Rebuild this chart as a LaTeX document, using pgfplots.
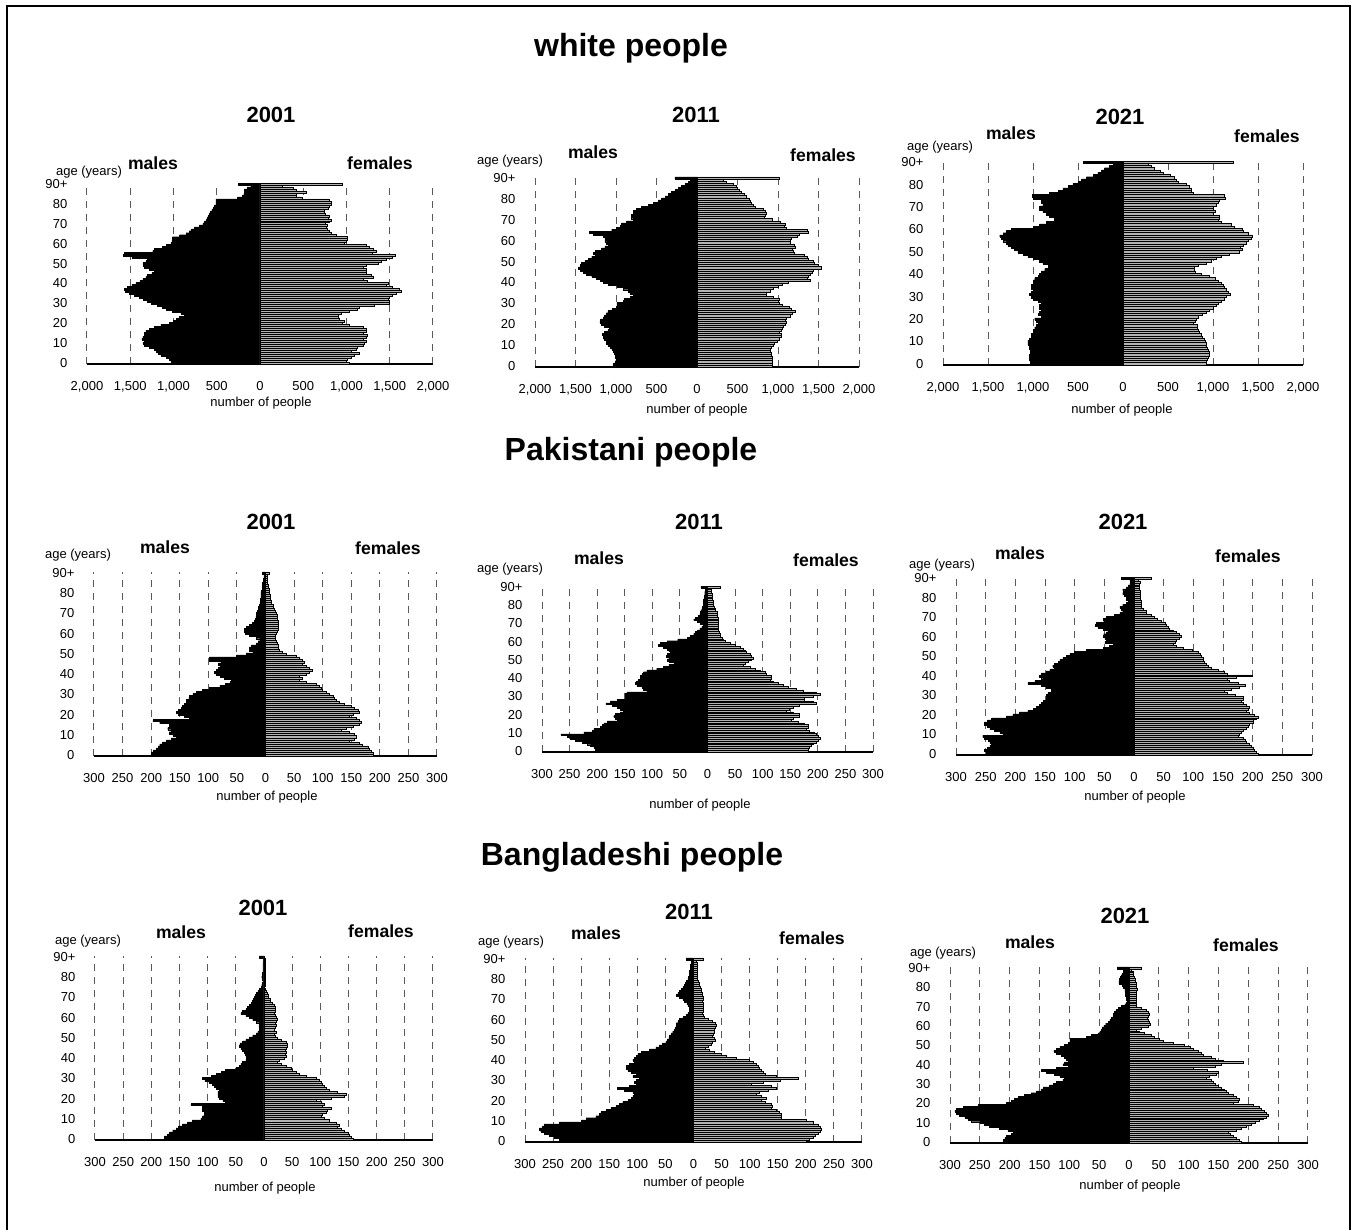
\documentclass[border=0pt]{standalone}
\usepackage{fontspec}
\setmainfont{Liberation Sans}
\usepackage{pgfplots}
\pgfplotsset{compat=1.18}
\usepackage{pgfplotstable}

\newcommand\sm{\fontsize{6.5}{7.5}\selectfont}
\newcommand\sx{\bfseries\fontsize{8.8}{10}\selectfont}
\newcommand\yr{\bfseries\fontsize{11}{13}\selectfont}
\newcommand\hd{\bfseries\fontsize{16}{19}\selectfont}

% age, males (negative), females -- white
\pgfplotstableread[row sep=\\]{age m f\\
0 -1010 1030\\ 1 -1030 1000\\ 2 -1050 1015\\ 3 -1085 1055\\ 4 -1145 1090\\ 5 -1180 1150\\ 6 -1200 1055\\ 7 -1220 1110\\ 8 -1280 1130\\ 9 -1340 1190\\
10 -1355 1210\\ 11 -1340 1230\\ 12 -1365 1190\\ 13 -1355 1230\\ 14 -1340 1245\\ 15 -1340 1190\\ 16 -1320 1230\\ 17 -1280 1230\\ 18 -1220 1190\\ 19 -1145 1035\\
20 -1050 955\\ 21 -1000 975\\ 22 -970 920\\ 23 -930 900\\ 24 -875 900\\ 25 -915 940\\ 26 -1010 1035\\ 27 -1085 1130\\ 28 -1125 1150\\ 29 -1190 1325\\
30 -1260 1500\\ 31 -1300 1500\\ 32 -1350 1480\\ 33 -1395 1500\\ 34 -1450 1535\\ 35 -1510 1575\\ 36 -1560 1630\\ 37 -1570 1615\\ 38 -1530 1535\\ 39 -1480 1460\\
40 -1435 1480\\ 41 -1390 1245\\ 42 -1355 1190\\ 43 -1320 1305\\ 44 -1300 1285\\ 45 -1250 1230\\ 46 -1220 1230\\ 47 -1280 1230\\ 48 -1340 1190\\ 49 -1350 1230\\
50 -1355 1365\\ 51 -1320 1400\\ 52 -1300 1460\\ 53 -1480 1535\\ 54 -1580 1560\\ 55 -1570 1300\\ 56 -1240 1345\\ 57 -1220 1305\\ 58 -1125 1260\\ 59 -1080 1230\\
60 -1030 975\\ 61 -1020 995\\ 62 -1015 1015\\ 63 -1010 1015\\ 64 -930 880\\ 65 -855 820\\ 66 -820 800\\ 67 -790 780\\ 68 -760 765\\ 69 -700 780\\
70 -660 760\\ 71 -640 800\\ 72 -620 820\\ 73 -610 790\\ 74 -600 800\\ 75 -585 760\\ 76 -570 740\\ 77 -555 745\\ 78 -540 785\\ 79 -525 800\\
80 -510 820\\ 81 -510 820\\ 82 -510 800\\ 83 -260 490\\ 84 -200 420\\ 85 -185 420\\ 86 -180 530\\ 87 -180 420\\ 88 -150 380\\ 89 -105 262\\
90 -250 957\\
}\Wa
\pgfplotstableread[row sep=\\]{age m f\\
0 -1040 930\\ 1 -1030 935\\ 2 -1010 935\\ 3 -1000 930\\ 4 -1005 925\\ 5 -1010 920\\ 6 -1020 915\\ 7 -1030 905\\ 8 -1050 900\\ 9 -1070 920\\
10 -1100 940\\ 11 -1115 960\\ 12 -1120 990\\ 13 -1150 1020\\ 14 -1160 1040\\ 15 -1165 1040\\ 16 -1140 1020\\ 17 -1100 1040\\ 18 -1080 1050\\ 19 -1140 1070\\
20 -1180 1090\\ 21 -1200 1100\\ 22 -1190 1090\\ 23 -1160 1100\\ 24 -1140 1150\\ 25 -1120 1180\\ 26 -1100 1210\\ 27 -1050 1170\\ 28 -1000 1140\\ 29 -990 1050\\
30 -990 1020\\ 31 -910 1000\\ 32 -900 1010\\ 33 -820 940\\ 34 -790 850\\ 35 -830 860\\ 36 -850 900\\ 37 -910 940\\ 38 -990 1000\\ 39 -1095 1050\\
40 -1156 1130\\ 41 -1197 1400\\ 42 -1239 1360\\ 43 -1300 1380\\ 44 -1362 1400\\ 45 -1403 1420\\ 46 -1444 1430\\ 47 -1465 1530\\ 48 -1444 1500\\ 49 -1424 1450\\
50 -1383 1440\\ 51 -1341 1380\\ 52 -1300 1360\\ 53 -1259 1330\\ 54 -1280 1200\\ 55 -1259 1190\\ 56 -1177 1180\\ 57 -1136 1210\\ 58 -1095 1200\\ 59 -1115 1150\\
60 -1136 1150\\ 61 -1136 1160\\ 62 -1156 1240\\ 63 -1280 1260\\ 64 -1330 1380\\ 65 -1053 1360\\ 66 -992 1100\\ 67 -950 1080\\ 68 -930 1090\\ 69 -868 1030\\
70 -786 930\\ 71 -807 830\\ 72 -807 840\\ 73 -786 850\\ 74 -786 840\\ 75 -745 820\\ 76 -683 720\\ 77 -600 690\\ 78 -539 670\\ 79 -477 660\\
80 -436 640\\ 81 -395 610\\ 82 -354 580\\ 83 -313 550\\ 84 -272 520\\ 85 -230 500\\ 86 -190 480\\ 87 -148 450\\ 88 -107 360\\ 89 -86 330\\
90 -272 1016\\
}\Wb
\pgfplotstableread[row sep=\\]{age m f\\
0 -1018 920\\ 1 -1030 930\\ 2 -1037 940\\ 3 -1037 950\\ 4 -1037 955\\ 5 -1030 960\\ 6 -1030 950\\ 7 -1037 940\\ 8 -1037 930\\ 9 -1056 920\\
10 -1056 910\\ 11 -1037 900\\ 12 -1018 880\\ 13 -1018 870\\ 14 -1000 850\\ 15 -1000 840\\ 16 -981 830\\ 17 -963 820\\ 18 -944 780\\ 19 -963 800\\
20 -981 810\\ 21 -907 840\\ 22 -944 880\\ 23 -926 920\\ 24 -907 960\\ 25 -926 1000\\ 26 -926 1040\\ 27 -907 1060\\ 28 -944 1090\\ 29 -1000 1120\\
30 -1018 1150\\ 31 -1037 1190\\ 32 -1018 1170\\ 33 -1000 1150\\ 34 -1018 1130\\ 35 -1018 1110\\ 36 -1000 1090\\ 37 -1000 1060\\ 38 -981 1020\\ 39 -944 960\\
40 -926 870\\ 41 -907 800\\ 42 -870 790\\ 43 -833 790\\ 44 -833 835\\ 45 -889 925\\ 46 -926 980\\ 47 -1000 1040\\ 48 -1056 1090\\ 49 -1111 1185\\
50 -1167 1296\\ 51 -1204 1320\\ 52 -1240 1300\\ 53 -1278 1333\\ 54 -1296 1370\\ 55 -1333 1390\\ 56 -1352 1425\\ 57 -1370 1440\\ 58 -1333 1390\\ 59 -1296 1333\\
60 -1240 1320\\ 61 -1000 1240\\ 62 -926 1200\\ 63 -852 1090\\ 64 -759 1055\\ 65 -759 1075\\ 66 -815 1075\\ 67 -852 1000\\ 68 -889 1020\\ 69 -926 1000\\
70 -926 1000\\ 71 -889 1040\\ 72 -907 1055\\ 73 -907 1075\\ 74 -1000 1140\\ 75 -1011 1130\\ 76 -815 780\\ 77 -722 760\\ 78 -667 760\\ 79 -611 740\\
80 -556 700\\ 81 -500 610\\ 82 -463 590\\ 83 -407 575\\ 84 -333 520\\ 85 -278 445\\ 86 -240 410\\ 87 -204 350\\ 88 -148 315\\ 89 -110 280\\
90 -437 1230\\
}\Wc
% Pakistani
\pgfplotstableread[row sep=\\]{age m f\\
0 -197 188\\ 1 -200 188\\ 2 -196 185\\ 3 -191 182\\ 4 -188 179\\ 5 -185 170\\ 6 -180 164\\ 7 -174 147\\ 8 -165 156\\ 9 -156 159\\
10 -162 156\\ 11 -168 147\\ 12 -165 132\\ 13 -171 141\\ 14 -168 153\\ 15 -168 164\\ 16 -185 167\\ 17 -197 164\\ 18 -133 159\\ 19 -142 147\\
20 -153 153\\ 21 -156 164\\ 22 -153 162\\ 23 -147 156\\ 24 -145 150\\ 25 -142 138\\ 26 -139 129\\ 27 -139 124\\ 28 -134 121\\ 29 -133 118\\
30 -127 112\\ 31 -121 106\\ 32 -110 100\\ 33 -98 97\\ 34 -80 94\\ 35 -70 89\\ 36 -62 71\\ 37 -60 59\\ 38 -72 65\\ 39 -80 59\\
40 -87 71\\ 41 -89 77\\ 42 -86 82\\ 43 -83 77\\ 44 -80 71\\ 45 -83 65\\ 46 -78 68\\ 47 -98 65\\ 48 -98 59\\ 49 -51 54\\
50 -34 36\\ 51 -22 30\\ 52 -28 24\\ 53 -28 22\\ 54 -25 22\\ 55 -16 20\\ 56 -13 19\\ 57 -10 18\\ 58 -16 17\\ 59 -28 18\\
60 -35 19\\ 61 -37 21\\ 62 -37 22\\ 63 -34 22\\ 64 -28 22\\ 65 -23 22\\ 66 -19 22\\ 67 -18 21\\ 68 -17 20\\ 69 -16 20\\
70 -16 19\\ 71 -14 17\\ 72 -13 16\\ 73 -12 14\\ 74 -11 13\\ 75 -10 11\\ 76 -9 10\\ 77 -9 9\\ 78 -8 8\\ 79 -8 8\\
80 -8 7\\ 81 -7 6\\ 82 -6 6\\ 83 -6 5\\ 84 -5 5\\ 85 -5 4\\ 86 -4 4\\ 87 -4 4\\ 88 -3 3\\ 89 -3 3\\
90 -5 7\\
}\Pa
\pgfplotstableread[row sep=\\]{age m f\\
0 -203 182\\ 1 -203 182\\ 2 -206 185\\ 3 -212 188\\ 4 -218 192\\ 5 -227 198\\ 6 -239 200\\ 7 -248 204\\ 8 -254 200\\ 9 -266 198\\
10 -224 194\\ 11 -209 185\\ 12 -206 179\\ 13 -194 182\\ 14 -191 182\\ 15 -188 176\\ 16 -182 164\\ 17 -164 152\\ 18 -167 155\\ 19 -170 167\\
20 -167 167\\ 21 -158 155\\ 22 -152 143\\ 23 -158 149\\ 24 -164 155\\ 25 -173 167\\ 26 -184 198\\ 27 -176 192\\ 28 -164 176\\ 29 -149 176\\
30 -149 192\\ 31 -149 204\\ 32 -146 198\\ 33 -110 173\\ 34 -116 161\\ 35 -119 146\\ 36 -128 137\\ 37 -131 128\\ 38 -129 119\\ 39 -125 113\\
40 -122 116\\ 41 -122 116\\ 42 -119 107\\ 43 -116 104\\ 44 -110 95\\ 45 -92 86\\ 46 -80 77\\ 47 -70 65\\ 48 -61 68\\ 49 -70 74\\
50 -73 80\\ 51 -70 83\\ 52 -75 80\\ 53 -73 77\\ 54 -67 71\\ 55 -70 68\\ 56 -73 65\\ 57 -80 59\\ 58 -89 50\\ 59 -86 41\\
60 -73 32\\ 61 -54 29\\ 62 -37 26\\ 63 -31 24\\ 64 -25 23\\ 65 -22 21\\ 66 -18 20\\ 67 -14 20\\ 68 -10 20\\ 69 -8 20\\
70 -13 20\\ 71 -19 20\\ 72 -25 20\\ 73 -22 19\\ 74 -16 18\\ 75 -14 17\\ 76 -13 17\\ 77 -12 15\\ 78 -10 14\\ 79 -9 12\\
80 -8 11\\ 81 -8 10\\ 82 -7 10\\ 83 -7 9\\ 84 -6 9\\ 85 -6 8\\ 86 -5 8\\ 87 -5 7\\ 88 -4 7\\ 89 -4 5\\
90 -12 23\\
}\Pb
\pgfplotstableread[row sep=\\]{age m f\\
0 -249 209\\ 1 -249 206\\ 2 -252 203\\ 3 -247 201\\ 4 -243 198\\ 5 -240 195\\ 6 -243 189\\ 7 -246 187\\ 8 -252 184\\ 9 -255 175\\
10 -221 178\\ 11 -226 181\\ 12 -235 184\\ 13 -243 189\\ 14 -247 192\\ 15 -252 195\\ 16 -252 201\\ 17 -247 201\\ 18 -240 206\\ 19 -215 209\\
20 -204 203\\ 21 -193 195\\ 22 -179 189\\ 23 -170 192\\ 24 -165 195\\ 25 -159 189\\ 26 -156 184\\ 27 -153 181\\ 28 -148 184\\ 29 -148 184\\
30 -148 170\\ 31 -145 158\\ 32 -139 153\\ 33 -139 164\\ 34 -148 178\\ 35 -156 187\\ 36 -179 175\\ 37 -167 161\\ 38 -153 158\\ 39 -156 172\\
40 -159 199\\ 41 -156 158\\ 42 -148 153\\ 43 -142 142\\ 44 -134 130\\ 45 -137 125\\ 46 -134 122\\ 47 -128 119\\ 48 -125 117\\ 49 -120 116\\
50 -114 113\\ 51 -108 111\\ 52 -100 108\\ 53 -80 99\\ 54 -52 83\\ 55 -41 71\\ 56 -35 66\\ 57 -49 69\\ 58 -47 71\\ 59 -49 77\\
60 -52 80\\ 61 -51 77\\ 62 -47 71\\ 63 -44 66\\ 64 -52 60\\ 65 -61 57\\ 66 -65 54\\ 67 -63 52\\ 68 -51 46\\ 69 -52 40\\
70 -47 35\\ 71 -33 29\\ 72 -24 21\\ 73 -19 20\\ 74 -21 15\\ 75 -24 13\\ 76 -19 12\\ 77 -13 12\\ 78 -10 12\\ 79 -13 11\\
80 -13 11\\ 81 -16 10\\ 82 -19 10\\ 83 -16 10\\ 84 -19 9\\ 85 -13 9\\ 86 -10 9\\ 87 -7 9\\ 88 -6 10\\ 89 -7 8\\
90 -21 29\\
}\Pc
% Bangladeshi
\pgfplotstableread[row sep=\\]{age m f\\
0 -174 158\\ 1 -177 155\\ 2 -171 152\\ 3 -168 149\\ 4 -162 143\\ 5 -156 137\\ 6 -152 131\\ 7 -145 134\\ 8 -136 128\\ 9 -127 116\\
10 -112 107\\ 11 -109 101\\ 12 -106 104\\ 13 -106 110\\ 14 -109 113\\ 15 -109 119\\ 16 -109 104\\ 17 -130 107\\ 18 -68 101\\ 19 -73 92\\
20 -79 119\\ 21 -82 143\\ 22 -82 146\\ 23 -82 131\\ 24 -80 116\\ 25 -85 110\\ 26 -88 107\\ 27 -92 104\\ 28 -98 101\\ 29 -105 98\\
30 -109 92\\ 31 -94 75\\ 32 -85 63\\ 33 -76 57\\ 34 -68 51\\ 35 -50 48\\ 36 -44 39\\ 37 -41 30\\ 38 -38 24\\ 39 -32 27\\
40 -31 36\\ 41 -32 39\\ 42 -33 38\\ 43 -35 39\\ 44 -38 38\\ 45 -41 39\\ 46 -44 42\\ 47 -43 42\\ 48 -38 39\\ 49 -32 30\\
50 -26 24\\ 51 -20 20\\ 52 -14 18\\ 53 -11 21\\ 54 -8 18\\ 55 -8 20\\ 56 -9 21\\ 57 -8 20\\ 58 -14 21\\ 59 -20 23\\
60 -26 21\\ 61 -32 20\\ 62 -41 18\\ 63 -38 20\\ 64 -32 20\\ 65 -29 20\\ 66 -26 18\\ 67 -23 14\\ 68 -21 12\\ 69 -19 11\\
70 -17 8\\ 71 -15 7\\ 72 -14 5\\ 73 -11 4\\ 74 -8 2\\ 75 -5 1\\ 76 -4 2\\ 77 -3 2\\ 78 -2 2\\ 79 -3 2\\
80 -4 2\\ 81 -3 2\\ 82 -3 2\\ 83 -2 2\\ 84 -2 2\\ 85 -2 2\\ 86 -2 2\\ 87 -2 2\\ 88 -1 2\\ 89 -1 2\\
90 -8 1\\
}\Ba
\pgfplotstableread[row sep=\\]{age m f\\
0 -227 201\\ 1 -239 207\\ 2 -248 213\\ 3 -257 217\\ 4 -266 222\\ 5 -272 226\\ 6 -275 228\\ 7 -269 225\\ 8 -266 222\\ 9 -239 213\\
10 -200 201\\ 11 -191 156\\ 12 -174 156\\ 13 -168 156\\ 14 -165 153\\ 15 -156 147\\ 16 -147 138\\ 17 -138 141\\ 18 -132 138\\ 19 -126 127\\
20 -117 121\\ 21 -111 130\\ 22 -108 121\\ 23 -105 112\\ 24 -108 118\\ 25 -123 133\\ 26 -135 147\\ 27 -114 138\\ 28 -102 103\\ 29 -105 125\\
30 -102 155\\ 31 -96 187\\ 32 -108 147\\ 33 -102 127\\ 34 -111 124\\ 35 -117 121\\ 36 -120 118\\ 37 -120 115\\ 38 -114 112\\ 39 -105 106\\
40 -108 100\\ 41 -105 76\\ 42 -102 58\\ 43 -99 49\\ 44 -93 37\\ 45 -78 29\\ 46 -67 21\\ 47 -61 26\\ 48 -55 31\\ 49 -49 34\\
50 -46 39\\ 51 -44 37\\ 52 -43 34\\ 53 -40 36\\ 54 -37 37\\ 55 -34 37\\ 56 -32 39\\ 57 -31 40\\ 58 -31 39\\ 59 -28 34\\
60 -25 26\\ 61 -19 20\\ 62 -13 17\\ 63 -10 15\\ 64 -8 17\\ 65 -7 18\\ 66 -8 17\\ 67 -10 17\\ 68 -12 17\\ 69 -16 15\\
70 -19 17\\ 71 -25 17\\ 72 -31 15\\ 73 -28 15\\ 74 -25 14\\ 75 -22 14\\ 76 -19 12\\ 77 -16 11\\ 78 -14 10\\ 79 -13 8\\
80 -10 6\\ 81 -9 7\\ 82 -8 7\\ 83 -7 7\\ 84 -8 6\\ 85 -6 7\\ 86 -5 6\\ 87 -5 6\\ 88 -4 6\\ 89 -4 5\\
90 -13 17\\
}\Bb
\pgfplotstableread[row sep=\\]{age m f\\
0 -211 188\\ 1 -211 185\\ 2 -208 180\\ 3 -206 174\\ 4 -197 169\\ 5 -194 166\\ 6 -203 180\\ 7 -217 188\\ 8 -234 197\\ 9 -242 205\\
10 -250 211\\ 11 -264 219\\ 12 -270 225\\ 13 -275 230\\ 14 -284 233\\ 15 -289 230\\ 16 -292 227\\ 17 -289 222\\ 18 -278 219\\ 19 -253 208\\
20 -206 174\\ 21 -197 183\\ 22 -192 185\\ 23 -186 180\\ 24 -175 174\\ 25 -164 166\\ 26 -155 163\\ 27 -147 160\\ 28 -144 155\\ 29 -133 149\\
30 -127 144\\ 31 -122 141\\ 32 -111 138\\ 33 -108 130\\ 34 -116 135\\ 35 -125 146\\ 36 -139 149\\ 37 -147 132\\ 38 -122 107\\ 39 -102 144\\
40 -111 155\\ 41 -108 191\\ 42 -102 158\\ 43 -105 144\\ 44 -108 138\\ 45 -113 124\\ 46 -122 121\\ 47 -126 116\\ 48 -122 107\\ 49 -116 102\\
50 -108 93\\ 51 -102 74\\ 52 -99 57\\ 53 -99 51\\ 54 -72 43\\ 55 -63 37\\ 56 -52 26\\ 57 -49 18\\ 58 -46 13\\ 59 -45 21\\
60 -42 32\\ 61 -39 35\\ 62 -35 34\\ 63 -32 32\\ 64 -30 30\\ 65 -27 32\\ 66 -26 34\\ 67 -24 32\\ 68 -22 29\\ 69 -18 21\\
70 -13 13\\ 71 -7 13\\ 72 -4 13\\ 73 -3 13\\ 74 -4 13\\ 75 -4 12\\ 76 -6 12\\ 77 -6 13\\ 78 -7 13\\ 79 -7 14\\
80 -9 13\\ 81 -11 12\\ 82 -17 12\\ 83 -17 11\\ 84 -16 10\\ 85 -15 9\\ 86 -13 8\\ 87 -11 8\\ 88 -10 7\\ 89 -9 4\\
90 -20 21\\
}\Bc

\pgfplotsset{
  pyr/.style={scale only axis, xbar, bar shift=0pt, bar width=1,
    ymin=-0.5, ymax=90.5, enlargelimits=false,
    axis x line*=bottom, axis y line*=left,
    y axis line style={draw=none},
    x axis line style={black, line width=0.6pt},
    tick style={draw=none},
    ytick={0,10,...,90}, yticklabels={0,10,20,30,40,50,60,70,80,90+},
    xmajorgrids,
    major grid style={black!65, line width=0.5pt, dash pattern=on 3.5pt off 3pt},
    ticklabel style={font=\sm},
    xticklabel style={yshift=-5pt},
    yticklabel style={xshift=-2pt},
    anchor=south west},
  big/.style={pyr, xmin=-2000, xmax=2000, xtick={-2000,-1500,...,2000},
    xticklabels={{2,000},{1,500},{1,000},500,0,500,{1,000},{1,500},{2,000}}},
  small/.style={pyr, xmin=-300, xmax=300, xtick={-300,-250,...,300},
    xticklabels={300,250,200,150,100,50,0,50,100,150,200,250,300}},
  male/.style={fill=black, draw=black, line width=0.2pt},
  fem/.style={fill=gray!60, draw=black, line width=0.3pt},
}

\begin{document}
\begin{tikzpicture}[x=0.5pt, y=-0.5pt]
\path[use as bounding box] (0,0) rectangle (1357,1230);
\draw[line width=1pt] (7,1230) -- (7,6) -- (1350,6) -- (1350,1230);

% white people
\begin{axis}[big, at={(43.5pt,-182pt)}, width=173pt, height=90.5pt]
\addplot[male] table[x=m, y=age] {\Wa};
\addplot[fem] table[x=f, y=age] {\Wa};
\end{axis}
\begin{axis}[big, at={(267.5pt,-183.5pt)}, width=162pt, height=95pt]
\addplot[male] table[x=m, y=age] {\Wb};
\addplot[fem] table[x=f, y=age] {\Wb};
\end{axis}
\begin{axis}[big, at={(471.5pt,-182.5pt)}, width=180pt, height=102pt]
\addplot[male] table[x=m, y=age] {\Wc};
\addplot[fem] table[x=f, y=age] {\Wc};
\end{axis}

% Pakistani people
\begin{axis}[small, at={(47pt,-378pt)}, width=171.5pt, height=92pt]
\addplot[male] table[x=m, y=age] {\Pa};
\addplot[fem] table[x=f, y=age] {\Pa};
\end{axis}
\begin{axis}[small, at={(271pt,-376pt)}, width=165.5pt, height=83pt]
\addplot[male] table[x=m, y=age] {\Pb};
\addplot[fem] table[x=f, y=age] {\Pb};
\end{axis}
\begin{axis}[small, at={(478pt,-377.5pt)}, width=178pt, height=89pt]
\addplot[male] table[x=m, y=age] {\Pc};
\addplot[fem] table[x=f, y=age] {\Pc};
\end{axis}

% Bangladeshi people
\begin{axis}[small, at={(47.5pt,-570pt)}, width=169pt, height=92pt]
\addplot[male] table[x=m, y=age] {\Ba};
\addplot[fem] table[x=f, y=age] {\Ba};
\end{axis}
\begin{axis}[small, at={(262.5pt,-571pt)}, width=168.5pt, height=92pt]
\addplot[male] table[x=m, y=age] {\Bb};
\addplot[fem] table[x=f, y=age] {\Bb};
\end{axis}
\begin{axis}[small, at={(475pt,-571.5pt)}, width=179pt, height=88pt]
\addplot[male] table[x=m, y=age] {\Bc};
\addplot[fem] table[x=f, y=age] {\Bc};
\end{axis}

% headings
\node[font=\hd] at (631,48) {white people};
\node[font=\hd] at (631,452) {Pakistani people};
\node[font=\hd] at (632,857) {Bangladeshi people};

\foreach \x/\y/\t in {271/115/2001, 696/115/2011, 1120/117/2021,
  271/522/2001, 699/522/2011, 1123/522/2021,
  263/908/2001, 689/912/2011, 1125/916/2021}
  \node[font=\yr] at (\x,\y) {\t};

\foreach \x/\y in {153/163, 593/152, 1011/133, 165/547, 599/558, 1020/553, 181/932, 596/933, 1030/942}
  \node[font=\sx] at (\x,\y) {males};
\foreach \x/\y in {380/163, 823/155, 1267/136, 388/548, 826/560, 1248/556, 381/931, 812/938, 1246/945}
  \node[font=\sx] at (\x,\y) {females};

\foreach \x/\y in {89/172, 510/161, 940/147, 78/555, 510/569, 942/565, 88/941, 511/942, 943/953}
  \node[font=\sm] at (\x,\y) {age (years)};

\foreach \x/\y in {261/403, 697/410, 1122/410, 267/797, 700/805, 1135/797, 265/1188, 694/1183, 1130/1186}
  \node[font=\sm] at (\x,\y) {number of people};
\end{tikzpicture}
\end{document}
